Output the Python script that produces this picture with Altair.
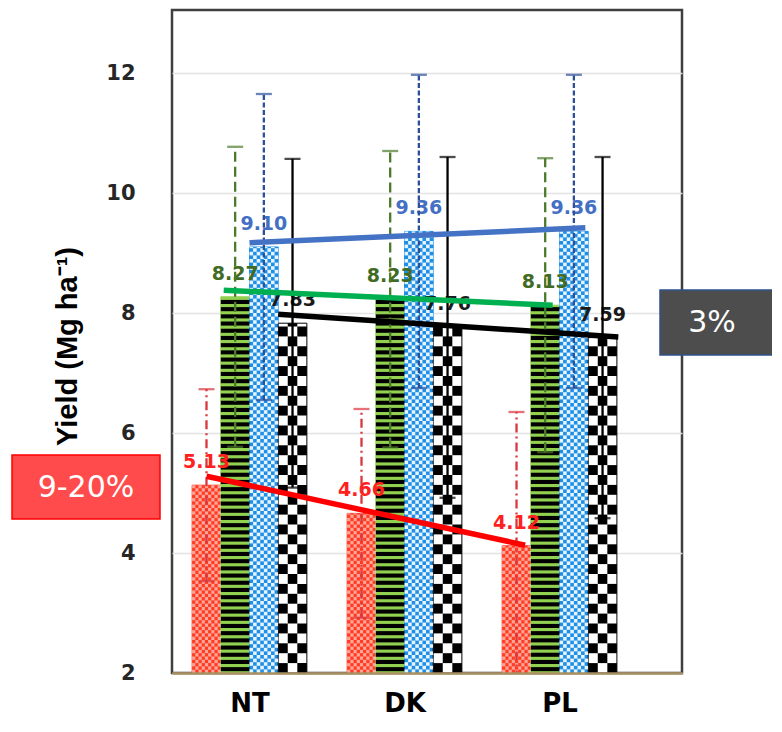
import altair as alt
import pandas as pd

# ---------------- data ----------------
categories = ["NT", "DK", "PL"]
series = ["A", "B", "C", "D"]          # red, green, blue, black bars (no legend in the figure)

yield_values = {
    "A": [5.13, 4.66, 4.12],
    "B": [8.27, 8.23, 8.13],
    "C": [9.10, 9.36, 9.36],
    "D": [7.83, 7.76, 7.59],
}
error_values = {
    "A": [1.60, 1.74, 2.23],
    "B": [2.50, 2.47, 2.45],
    "C": [2.55, 2.61, 2.61],
    "D": [2.74, 2.84, 3.01],
}
# trend lines drawn from NT to PL for each series
trend_start = [5.28, 8.38, 9.17, 7.98]
trend_end = [4.13, 8.13, 9.42, 7.60]

y_ticks = [2, 4, 6, 8, 10, 12]
annotations = ["9-20%", "3%"]

# ---------------- styles / layout ----------------
BW = 0.185  # bar width in category units
fills = ["#ff3b22", "#92d050", "#1d8fe6", "#ffffff"]
outlines = ["#ff3b22", "#92d050", "#1d8fe6", "#000000"]
label_colors = ["#ff2020", "#416b24", "#4470c4", "#1a1a1a"]
err_colors = ["#d9363e", "#4b7a2a", "#2c4f9c", "#000000"]
err_dashes = [[9, 4, 2, 4], [10, 5], [5, 2.5], [1, 0]]
trend_colors = ["#ff0000", "#00b050", "#4472c4", "#000000"]
trend_start_off = [0.0, -0.4, -0.5, -0.5]
trend_end_off = [0.3, 0.26, 0.4, 0.55]

rows = []
for ci, c in enumerate(categories):
    for si, s in enumerate(series):
        rows.append(dict(category=c, ci=ci, series=s, si=si,
                         value=yield_values[s][ci], err=error_values[s][ci]))
df = pd.DataFrame(rows)

trend_df = pd.DataFrame(dict(series=series, si=list(range(len(series))),
                             start=trend_start, end=trend_end,
                             so=trend_start_off, eo=trend_end_off))

XS = alt.Scale(domain=[-0.5, 2.79], nice=False, zero=False)
YS = alt.Scale(domain=[2, 13.05], nice=False, zero=False)

label_expr = "[" + ",".join(f"'{c}'" for c in categories) + "][datum.value]"
XA = alt.Axis(title=None, values=list(range(len(categories))), labelExpr=label_expr,
              grid=False, ticks=False, tickSize=0, domainColor="#a89060", domainWidth=2.5,
              labelFont="DejaVu Sans", labelFontWeight="bold", labelFontSize=26,
              labelColor="#000000", labelPadding=17, zindex=1)
YA = alt.Axis(title="Yield (Mg ha⁻¹)", values=y_ticks, grid=True, gridColor="#e3e3e3",
              gridWidth=1.5, domain=False, ticks=False, tickSize=0, labelPadding=37,
              labelFont="DejaVu Sans", labelFontWeight="bold", labelFontSize=21,
              labelColor="#262626", titleFont="Liberation Sans", titleFontWeight="bold",
              titleFontSize=29, titleColor="#000000", titleX=-105, titleY=336,
              titleAlign="center", titleBaseline="middle")


def base(data=df):
    return (alt.Chart(data)
            .transform_calculate(xc=f"datum.ci + (datum.si - 1.5) * {BW}")
            .transform_calculate(x0=f"datum.xc - {BW / 2}", x1=f"datum.xc + {BW / 2}",
                                 lo="datum.value - datum.err", hi="datum.value + datum.err",
                                 ybase="2"))


bars = base().mark_rect(strokeWidth=1).encode(
    x=alt.X("x0:Q", scale=XS, axis=XA), x2="x1:Q",
    y=alt.Y("ybase:Q", scale=YS, axis=YA), y2="value:Q",
    fill=alt.Fill("series:N", scale=alt.Scale(domain=series, range=fills), legend=None),
    stroke=alt.Stroke("series:N", scale=alt.Scale(domain=series, range=outlines), legend=None),
)


def checker(s, ncols, h, color, opacity):
    return (base().transform_filter(f"datum.series == '{s}'")
            .transform_calculate(r=f"sequence(0, ceil((datum.value - 2) / {h}))")
            .transform_flatten(["r"])
            .transform_calculate(c=f"sequence(0, {ncols})")
            .transform_flatten(["c"])
            .transform_filter("(datum.r + datum.c) % 2 == 0")
            .transform_calculate(cx0=f"datum.x0 + datum.c * (datum.x1 - datum.x0) / {ncols}",
                                 cx1=f"datum.x0 + (datum.c + 1) * (datum.x1 - datum.x0) / {ncols}",
                                 cy0=f"2 + datum.r * {h}",
                                 cy1=f"min(2 + (datum.r + 1) * {h}, datum.value)")
            .mark_rect(fill=color, opacity=opacity)
            .encode(x=alt.X("cx0:Q", scale=XS, axis=XA), x2="cx1:Q",
                    y=alt.Y("cy0:Q", scale=YS, axis=YA), y2="cy1:Q"))


def stripes(s, period, thick, color):
    return (base().transform_filter(f"datum.series == '{s}'")
            .transform_calculate(r=f"sequence(0, ceil((datum.value - 2) / {period}))")
            .transform_flatten(["r"])
            .transform_calculate(sy0=f"2 + datum.r * {period} + {period * 0.25}")
            .transform_filter("datum.sy0 < datum.value")
            .transform_calculate(sy1=f"min(datum.sy0 + {thick}, datum.value)")
            .mark_rect(fill=color)
            .encode(x=alt.X("x0:Q", scale=XS, axis=XA), x2="x1:Q",
                    y=alt.Y("sy0:Q", scale=YS, axis=YA), y2="sy1:Q"))


red_pat = checker("A", 9, 0.055, "#ffffff", 0.55)
green_pat = stripes("B", 0.12, 0.068, "#000000")
blue_pat = checker("C", 8, 0.06, "#ffffff", 0.9)
black_pat = checker("D", 3, 0.165, "#000000", 1.0)

labels = base().mark_text(dy=-23, baseline="middle", align="center", font="DejaVu Sans",
                          fontWeight="bold", fontSize=19).encode(
    x=alt.X("xc:Q", scale=XS, axis=XA),
    y=alt.Y("value:Q", scale=YS, axis=YA),
    text=alt.Text("value:Q", format=".2f"),
    color=alt.Color("series:N", scale=alt.Scale(domain=series, range=label_colors), legend=None),
)

err_rules = base().mark_rule(strokeWidth=2.3, clip=True).encode(
    x=alt.X("xc:Q", scale=XS, axis=XA),
    y=alt.Y("lo:Q", scale=YS, axis=YA), y2="hi:Q",
    color=alt.Color("series:N", scale=alt.Scale(domain=series, range=err_colors), legend=None),
    strokeDash=alt.StrokeDash("series:N", scale=alt.Scale(domain=series, range=err_dashes), legend=None),
)

err_caps = base().transform_fold(["lo", "hi"], as_=["end", "ev"]).mark_tick(
    orient="horizontal", size=16, thickness=2.3, clip=True).encode(
    x=alt.X("xc:Q", scale=XS, axis=XA),
    y=alt.Y("ev:Q", scale=YS, axis=YA),
    color=alt.Color("series:N", scale=alt.Scale(domain=series, range=err_colors), legend=None),
)

trends = (alt.Chart(trend_df)
          .transform_calculate(xs=f"0 + (datum.si - 1.5) * {BW} + datum.so * {BW}",
                               xe=f"{len(categories) - 1} + (datum.si - 1.5) * {BW} + datum.eo * {BW}")
          .mark_rule(strokeWidth=5.5, strokeCap="butt")
          .encode(x=alt.X("xs:Q", scale=XS, axis=XA), x2="xe:Q",
                  y=alt.Y("start:Q", scale=YS, axis=YA), y2="end:Q",
                  color=alt.Color("series:N", scale=alt.Scale(domain=series, range=trend_colors),
                                  legend=None)))

ann1 = pd.DataFrame({"t": [annotations[0]]})
ann2 = pd.DataFrame({"t": [annotations[1]]})
box1 = alt.Chart(ann1).mark_rect(fill="#ff4b4b", stroke="#ff0000", strokeWidth=1.5).encode(
    x=alt.value(-160), x2=alt.value(-12), y=alt.value(445), y2=alt.value(509))
txt1 = alt.Chart(ann1).mark_text(font="DejaVu Sans", fontSize=30, color="#ffffff",
                                 align="center", baseline="middle").encode(
    x=alt.value(-86), y=alt.value(478), text="t:N")
box2 = alt.Chart(ann2).mark_rect(fill="#4d4d4d", stroke="#2f528f", strokeWidth=1.5).encode(
    x=alt.value(488), x2=alt.value(604), y=alt.value(280), y2=alt.value(345))
txt2 = alt.Chart(ann2).mark_text(font="DejaVu Sans", fontSize=30, color="#ffffff",
                                 align="center", baseline="middle").encode(
    x=alt.value(540), y=alt.value(313), text="t:N")

chart = alt.layer(
    bars, red_pat, green_pat, blue_pat, black_pat, labels, err_rules, err_caps, trends,
    box1, txt1, box2, txt2
).resolve_scale(
    color="independent", fill="independent", stroke="independent", strokeDash="independent"
).properties(
    width=510, height=663,
    autosize=alt.AutoSizeParams(type="none"),
    padding={"left": 164, "top": 2, "right": 90, "bottom": 48},
).configure_view(stroke="#3f3f3f", strokeWidth=2.5)

chart.save("out.html", embed_options={"renderer": "svg", "actions": False})
